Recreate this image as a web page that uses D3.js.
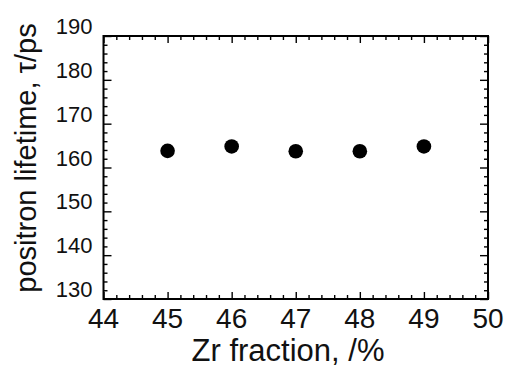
<!DOCTYPE html>
<html>
<head>
<meta charset="utf-8">
<script src="https://cdn.jsdelivr.net/npm/d3@7"></script>
<style>
  body { margin: 0; background: #fff; }
  svg { display: block; font-family: "Liberation Sans", Arial, sans-serif; }
</style>
</head>
<body>
<div id="chart"></div>
<script>
// Data
const zrFraction = [45, 46, 47, 48, 49];
const lifetime = [163.8, 164.8, 163.7, 163.7, 164.8];
const xTicks = [44, 45, 46, 47, 48, 49, 50];
const yTicks = [130, 140, 150, 160, 170, 180, 190];

const width = 505, height = 367;
const margin = { top: 36, right: 17, bottom: 68, left: 103.5 };

const svg = d3.select("#chart")
  .append("svg")
  .attr("width", width)
  .attr("height", height);

// Scales
const x = d3.scaleLinear().domain([44, 50]).range([margin.left, width - margin.right]);
const y = d3.scaleLinear().domain([130, 190]).range([height - margin.bottom, margin.top]);

const xMinor = d3.range(44, 50.001, 0.2).filter(v => Math.abs(v - Math.round(v)) > 1e-6);
const yMinor = d3.range(130, 190.001, 2).filter(v => v % 10 !== 0);

// Helper to draw tick marks (inward) on all four sides
function ticks(axisFn, scale, values, size, transform) {
  svg.append("g")
    .attr("transform", transform)
    .call(axisFn(scale).tickValues(values).tickSize(size).tickFormat(""))
    .call(g => g.select(".domain").remove())
    .call(g => g.selectAll("line").attr("stroke", "#000").attr("stroke-width", 1.4));
}

const x0 = margin.left, x1 = width - margin.right;
const y0 = height - margin.bottom, y1 = margin.top;

ticks(d3.axisBottom, x, xTicks, -7, `translate(0,${y0})`);
ticks(d3.axisBottom, x, xMinor, -4, `translate(0,${y0})`);
ticks(d3.axisTop, x, xTicks, -7, `translate(0,${y1})`);
ticks(d3.axisTop, x, xMinor, -4, `translate(0,${y1})`);
ticks(d3.axisLeft, y, yTicks, -8, `translate(${x0},0)`);
ticks(d3.axisLeft, y, yMinor, -4, `translate(${x0},0)`);
ticks(d3.axisRight, y, yTicks, -8, `translate(${x1},0)`);
ticks(d3.axisRight, y, yMinor, -4, `translate(${x1},0)`);

// Frame
svg.append("rect")
  .attr("x", x0)
  .attr("y", y1)
  .attr("width", x1 - x0)
  .attr("height", y0 - y1)
  .attr("fill", "none")
  .attr("stroke", "#000")
  .attr("stroke-width", 2);

// Tick labels
svg.selectAll(".xlab")
  .data(xTicks)
  .enter()
  .append("text")
  .attr("class", "xlab")
  .attr("x", d => x(d))
  .attr("y", y0 + 29)
  .attr("text-anchor", "middle")
  .attr("font-size", "28px")
  .attr("fill", "#111")
  .text(d => d);

svg.selectAll(".ylab")
  .data(yTicks)
  .enter()
  .append("text")
  .attr("class", "ylab")
  .attr("x", x0 - 11)
  .attr("y", d => y(d) - 2)
  .attr("text-anchor", "end")
  .attr("font-size", "22px")
  .attr("fill", "#111")
  .text(d => d);

// Axis titles
svg.append("text")
  .attr("x", 288)
  .attr("y", 361)
  .attr("text-anchor", "middle")
  .attr("font-size", "31px")
  .attr("fill", "#111")
  .text("Zr fraction, /%");

svg.append("text")
  .attr("transform", `translate(36,158) rotate(-90)`)
  .attr("text-anchor", "middle")
  .attr("font-size", "29px")
  .attr("fill", "#111")
  .text("positron lifetime, τ/ps");

// Points
svg.selectAll(".dot")
  .data(zrFraction)
  .enter()
  .append("circle")
  .attr("class", "dot")
  .attr("cx", d => x(d))
  .attr("cy", (d, i) => y(lifetime[i]))
  .attr("r", 7.3)
  .attr("fill", "#000");
</script>
</body>
</html>
